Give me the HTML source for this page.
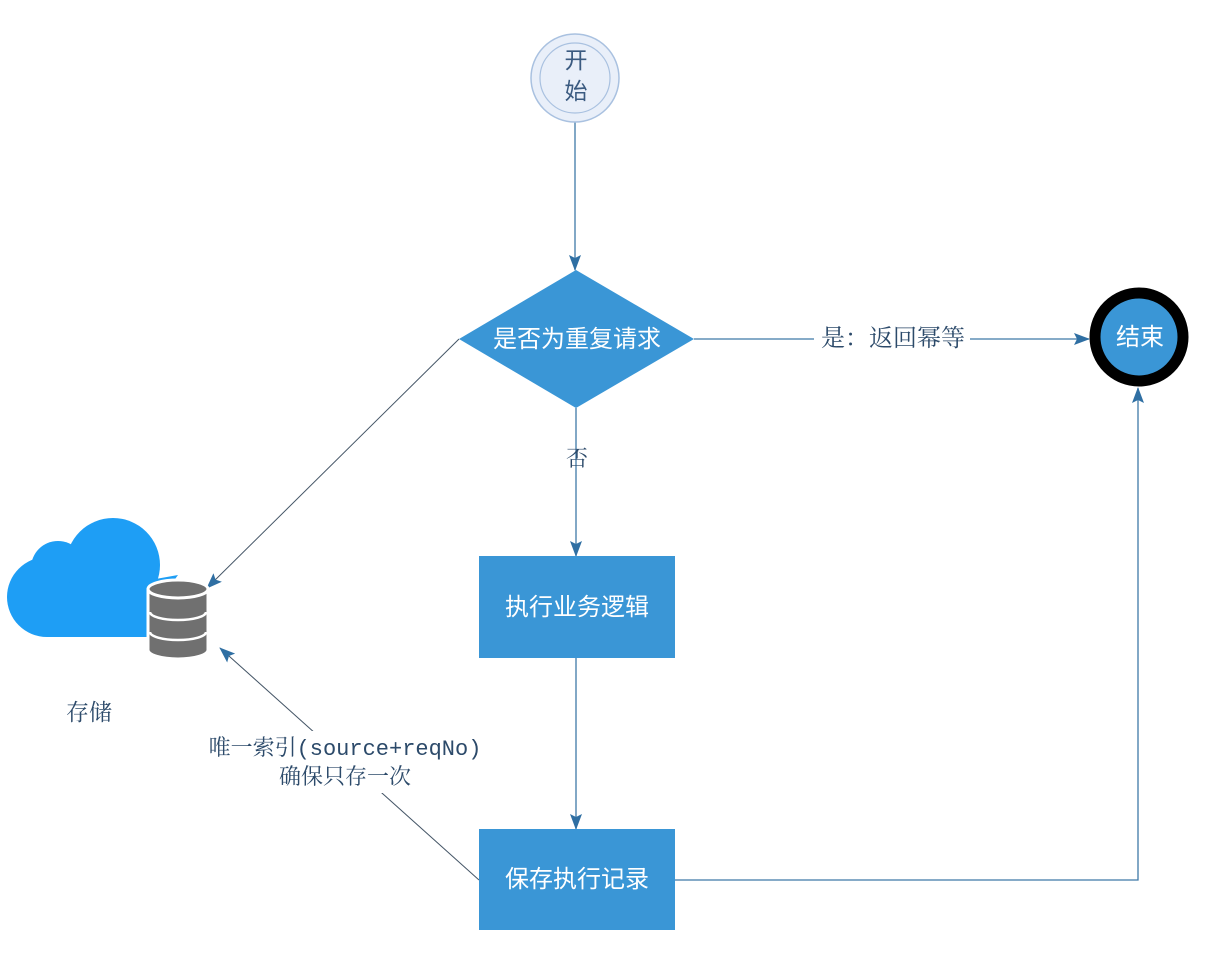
<!DOCTYPE html>
<html><head><meta charset="utf-8"><style>
html,body{margin:0;padding:0;background:#fff;}
svg{display:block;}
</style></head><body>
<svg width="1208" height="972" viewBox="0 0 1208 972" xmlns="http://www.w3.org/2000/svg">
<defs>
<marker id="ah" markerWidth="16" markerHeight="12" refX="15" refY="6" orient="auto" markerUnits="userSpaceOnUse">
<path d="M0,0 L16,6 L0,12 L3,6 Z" fill="#2f6fa3"/>
</marker>
</defs>
<g stroke="#3f79a8" stroke-width="1.3" fill="none">
<line x1="575" y1="122" x2="575" y2="270" marker-end="url(#ah)"/>
<line x1="694" y1="339" x2="1089" y2="339" marker-end="url(#ah)"/>
<line x1="576" y1="408" x2="576" y2="556" marker-end="url(#ah)"/>
<line x1="576" y1="658" x2="576" y2="829" marker-end="url(#ah)"/>
<polyline points="675,880 1138,880 1138,388" marker-end="url(#ah)"/>
</g>
<g stroke-width="1" fill="none">
<line x1="459" y1="339" x2="207" y2="588" stroke="#456" marker-end="url(#ah)"/>
<line x1="479" y1="880" x2="220" y2="648" stroke="#456" marker-end="url(#ah)"/>
</g>
<!-- start -->
<circle cx="575" cy="78" r="44" fill="#e9eff9" stroke="#a9c1e0" stroke-width="1.5"/>
<circle cx="575" cy="78" r="35" fill="#e9eff9" stroke="#a9c1e0" stroke-width="1.2"/>
<text x="576" y="68" font-size="23" fill="#3a5a80" text-anchor="middle" font-family="'Noto Sans CJK SC',sans-serif">开</text>
<text x="576" y="99" font-size="23" fill="#3a5a80" text-anchor="middle" font-family="'Noto Sans CJK SC',sans-serif">始</text>
<!-- diamond -->
<polygon points="576,270 694,339 576,408 459,339" fill="#3a96d6"/>
<text x="577" y="347" font-size="24" fill="#fff" text-anchor="middle" font-family="'Noto Sans CJK SC',sans-serif">是否为重复请求</text>
<!-- end -->
<circle cx="1139" cy="337" r="44" fill="#3a96d6" stroke="#000" stroke-width="11"/>
<text x="1140" y="345" font-size="24" fill="#fff" text-anchor="middle" font-family="'Noto Sans CJK SC',sans-serif">结束</text>
<!-- boxes -->
<rect x="479" y="556" width="196" height="102" fill="#3a96d6"/>
<text x="577" y="615" font-size="24" fill="#fff" text-anchor="middle" font-family="'Noto Sans CJK SC',sans-serif">执行业务逻辑</text>
<rect x="479" y="829" width="196" height="101" fill="#3a96d6"/>
<text x="577" y="887" font-size="24" fill="#fff" text-anchor="middle" font-family="'Noto Sans CJK SC',sans-serif">保存执行记录</text>
<!-- labels -->
<rect x="814" y="322" width="156" height="32" fill="#fff"/>
<text x="893" y="346" font-size="24" fill="#2c4a6a" text-anchor="middle" font-family="'Noto Serif CJK SC',serif">是：返回幂等</text>
<text x="577" y="466" font-size="22" fill="#2c4a6a" text-anchor="middle" font-family="'Noto Serif CJK SC',serif">否</text>
<rect x="206" y="731" width="280" height="62" fill="#fff"/>
<text x="345" y="755" font-size="22" fill="#2c4a6a" text-anchor="middle" font-family="'Liberation Mono','Noto Serif CJK SC',serif">唯一索引(source+reqNo)</text>
<text x="345" y="784" font-size="22" fill="#2c4a6a" text-anchor="middle" font-family="'Noto Serif CJK SC',serif">确保只存一次</text>
<text x="89" y="720" font-size="23" fill="#2c4a6a" text-anchor="middle" font-family="'Noto Serif CJK SC',serif">存储</text>
<!-- cloud -->
<g fill="#1e9ef5">
<circle cx="47" cy="597" r="40"/>
<circle cx="58" cy="568" r="27"/>
<circle cx="113" cy="565" r="47"/>
<rect x="47" y="590" width="120" height="47"/>
<path d="M150,580 L178,575 L160,600 Z"/>
</g>
<!-- database -->
<g fill="#707070" stroke="#fff" stroke-width="3">
<path d="M148,590 L148,650 A30,9 0 0 0 208,650 L208,590 Z"/>
</g>
<g fill="#707070">
<ellipse cx="178" cy="589" rx="30" ry="9" stroke="#fff" stroke-width="3"/>
</g>
<g stroke="#fff" stroke-width="2.5" fill="none">
<path d="M150,612 A28,8 0 0 0 206,612"/>
<path d="M150,632 A28,8 0 0 0 206,632"/>
</g>
</svg>
</body></html>
